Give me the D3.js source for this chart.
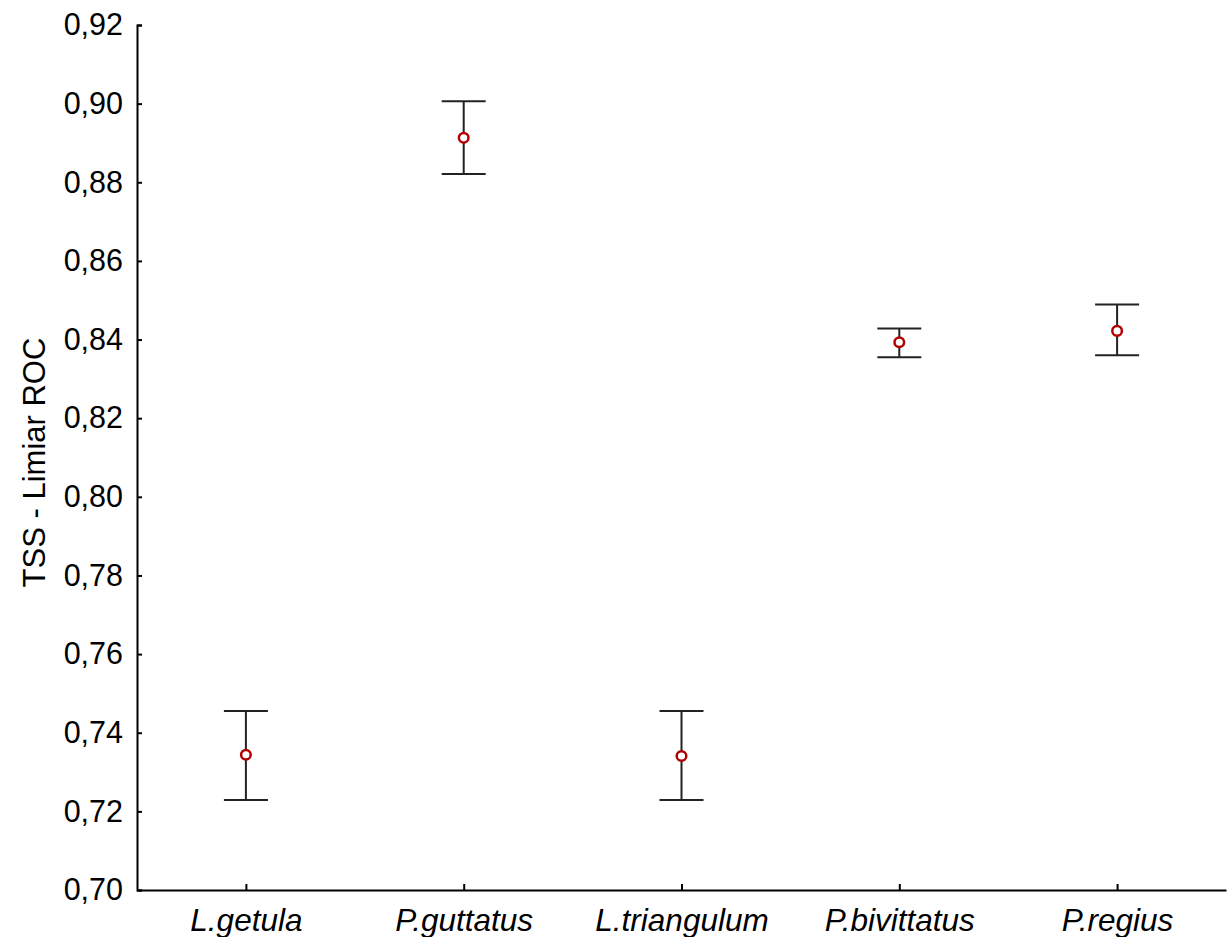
<!DOCTYPE html>
<html>
<head>
<meta charset="utf-8">
<script src="https://cdn.jsdelivr.net/npm/d3@7"></script>
<style>
  body { margin: 0; background: #fff; }
  svg { display: block; font-family: "Liberation Sans", Arial, sans-serif; }
</style>
</head>
<body>
<svg width="1230" height="937"></svg>
<script>
// data
var species = ["L.getula", "P.guttatus", "L.triangulum", "P.bivittatus", "P.regius"];
var means   = [0.7344, 0.8913, 0.7341, 0.8393, 0.8422];
var upper   = [0.7455, 0.9006, 0.7455, 0.8428, 0.8489];
var lower   = [0.7229, 0.8821, 0.7229, 0.8355, 0.8360];
var yTicks  = [0.70, 0.72, 0.74, 0.76, 0.78, 0.80, 0.82, 0.84, 0.86, 0.88, 0.90, 0.92];

var svg = d3.select("svg"),
    margin = {top: 25, right: 4, bottom: 47, left: 137},
    w = +svg.attr("width") - margin.left - margin.right,
    h = +svg.attr("height") - margin.top - margin.bottom;

var g = svg.append("g").attr("transform", "translate(" + margin.left + "," + margin.top + ")");

var x = d3.scalePoint()
	.domain(species)
	.range([0, w])
	.padding(0.5);

var y = d3.scaleLinear()
	.domain([0.70, 0.92])
	.range([h, 0]);

var fmt = function(d) { return d3.format(".2f")(d).replace(".", ","); };

// y axis, ticks inside
var yAxis = g.append("g")
	.call(d3.axisLeft(y).tickValues(yTicks).tickFormat(fmt).tickSizeInner(-5).tickSizeOuter(-5).tickPadding(14));
yAxis.selectAll("text").attr("font-size", 30.5).attr("fill", "#000").attr("font-family", "Liberation Sans, Arial, sans-serif");
yAxis.selectAll("line, path").attr("stroke", "#000").attr("stroke-width", 2);

// x axis
var xAxis = g.append("g")
	.attr("transform", "translate(0," + h + ")")
	.call(d3.axisBottom(x).tickSizeInner(-6).tickSizeOuter(0).tickPadding(19));
xAxis.selectAll("text").attr("font-size", 31.5).attr("font-style", "italic").attr("fill", "#000").attr("font-family", "Liberation Sans, Arial, sans-serif");
xAxis.selectAll("line, path").attr("stroke", "#000").attr("stroke-width", 2);

// y title
svg.append("text")
	.attr("transform", "translate(45," + (margin.top + h / 2 + 5) + ") rotate(-90)")
	.attr("text-anchor", "middle")
	.attr("font-size", 31)
	.text("TSS - Limiar ROC");

var idx = d3.range(species.length);
var capHalf = 22;

var bars = g.selectAll(".err").data(idx).enter().append("g").attr("class", "err");

bars.append("line")
	.attr("x1", function(i) { return x(species[i]); })
	.attr("x2", function(i) { return x(species[i]); })
	.attr("y1", function(i) { return y(upper[i]); })
	.attr("y2", function(i) { return y(lower[i]); })
	.attr("stroke", "#222").attr("stroke-width", 2);

bars.append("line")
	.attr("x1", function(i) { return x(species[i]) - capHalf; })
	.attr("x2", function(i) { return x(species[i]) + capHalf; })
	.attr("y1", function(i) { return y(upper[i]); })
	.attr("y2", function(i) { return y(upper[i]); })
	.attr("stroke", "#222").attr("stroke-width", 2);

bars.append("line")
	.attr("x1", function(i) { return x(species[i]) - capHalf; })
	.attr("x2", function(i) { return x(species[i]) + capHalf; })
	.attr("y1", function(i) { return y(lower[i]); })
	.attr("y2", function(i) { return y(lower[i]); })
	.attr("stroke", "#222").attr("stroke-width", 2);

bars.append("circle")
	.attr("cx", function(i) { return x(species[i]); })
	.attr("cy", function(i) { return y(means[i]); })
	.attr("r", 4.8)
	.attr("fill", "#fff")
	.attr("stroke", "#b00000")
	.attr("stroke-width", 2.5);
</script>
</body>
</html>
